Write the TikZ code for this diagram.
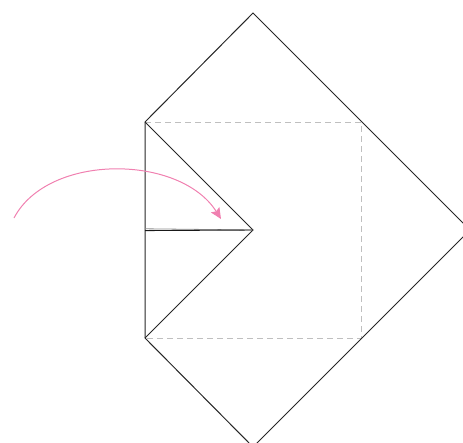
\documentclass[tikz,border=0pt]{standalone}
\usetikzlibrary{arrows.meta}
\begin{document}
\begin{tikzpicture}[x=1pt,y=-1pt,
  edge/.style={draw=black!85,line width=1pt,line join=miter},
  crease/.style={draw=black!25,line width=1pt,dash pattern=on 6pt off 4pt},
  move/.style={draw={rgb,255:red,240;green,128;blue,176},line width=1pt,-{Stealth[length=11pt,width=10pt,inset=2pt]}}]
\useasboundingbox (0,0) rectangle (463,442);
\coordinate (T) at (253,13);
\coordinate (R) at (470,230);
\coordinate (B) at (253,447);
\coordinate (UL) at (145,122);
\coordinate (LL) at (145,338);
\coordinate (UR) at (361,122);
\coordinate (LR) at (361,338);
\coordinate (P) at (253,230);
\coordinate (M1) at (145,228.8);
\coordinate (M2) at (145,230.6);
\draw[crease] (UL) -- (UR) -- (LR) -- (LL);
\draw[edge] (UL) -- (T) -- (R) -- (B) -- (LL) -- cycle;
\draw[edge] (UL) -- (P) -- (LL);
\draw[draw=black!45,line width=0.8pt] (M1) -- (P);
\draw[draw=black!90,line width=0.9pt] (M2) -- (P);
\coordinate (A0) at (14,218);
\coordinate (A1) at (221,219);
\draw[move] (A0) .. controls (48,153) and (180,154) .. (A1);
\end{tikzpicture}
\end{document}
